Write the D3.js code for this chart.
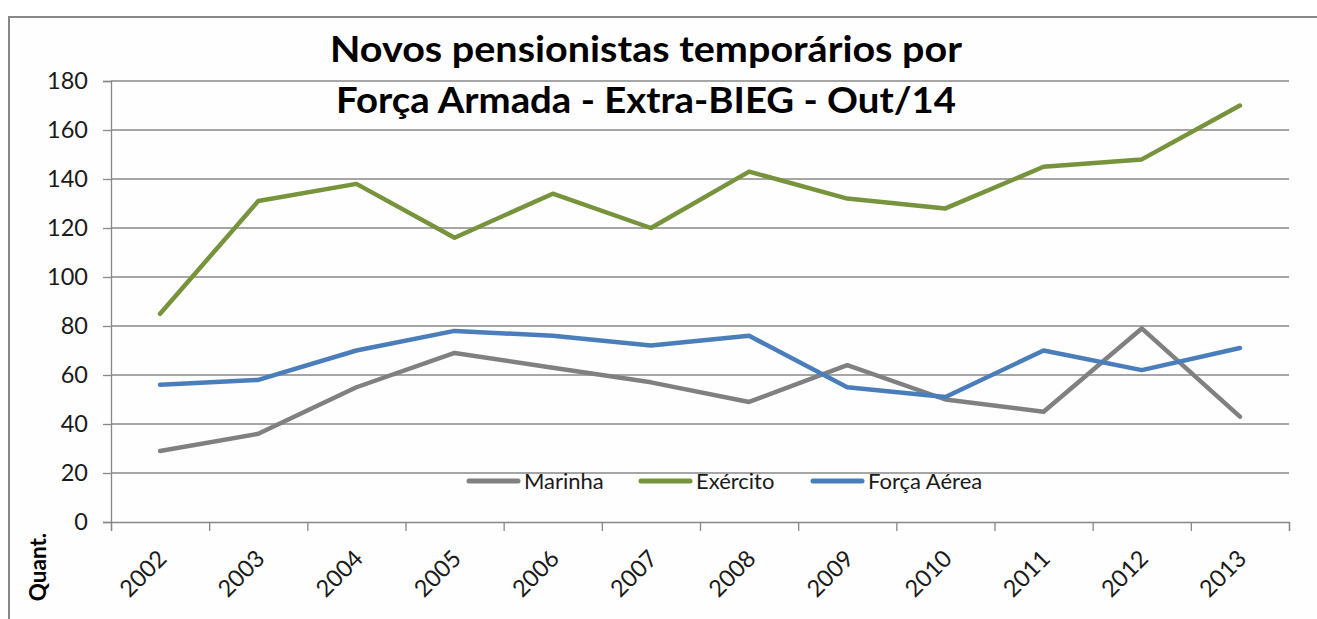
<!DOCTYPE html>
<html><head><meta charset="utf-8">
<script src="https://cdn.jsdelivr.net/npm/d3@7"></script>
<style>
body{margin:0;background:#fff}
svg{display:block}
text{font-family:Lato,"Open Sans",sans-serif}
</style>
</head><body>
<script>
// ---- data ----
const years = ["2002","2003","2004","2005","2006","2007","2008","2009","2010","2011","2012","2013"];
const marinha = [29,36,55,69,63,57,49,64,50,45,79,43];
const exercito = [85,131,138,116,134,120,143,132,128,145,148,170];
const forcaAerea = [56,58,70,78,76,72,76,55,51,70,62,71];
const yTicks = [0,20,40,60,80,100,120,140,160,180];
const seriesNames = ["Marinha","Exército","Força Aérea"];
const seriesColors = ["#808080","#77933C","#4A7EBB"];
const titleLines = ["Novos pensionistas temporários por","Força Armada - Extra-BIEG - Out/14"];
const yLabel = "Quant.";

// ---- layout ----
const W = 1317, H = 619;
const plotL = 111, plotR = 1289, plotT = 81, plotB = 522;
const gridColor = "#888888";

const svg = d3.select("body").append("svg").attr("width", W).attr("height", H);
svg.append("rect").attr("width", W).attr("height", H).attr("fill", "#fff");
// outer chart border
svg.append("rect").attr("x", 9).attr("y", 17).attr("width", W + 20).attr("height", H + 20)
  .attr("fill", "#fefefe").attr("stroke", "#878787").attr("stroke-width", 2);

const x = d3.scaleBand().domain(years).range([plotL, plotR]);
const xc = d => x(d) + x.bandwidth() / 2;
const y = d3.scaleLinear().domain([0, 180]).range([plotB, plotT]);

// gridlines
svg.append("g").selectAll("line").data(yTicks.filter(v => v > 0)).join("line")
  .attr("x1", plotL).attr("x2", plotR)
  .attr("y1", d => y(d)).attr("y2", d => y(d))
  .attr("stroke", gridColor).attr("stroke-width", 1.3);

// y axis
const yAxis = svg.append("g").attr("transform", `translate(${plotL},0)`)
  .call(d3.axisLeft(y).tickValues(yTicks).tickSize(8).tickPadding(15));
yAxis.select(".domain").attr("stroke", gridColor).attr("stroke-width", 1.3);
yAxis.selectAll(".tick line").attr("stroke", gridColor).attr("stroke-width", 1.3);
yAxis.selectAll(".tick text").attr("font-size", 23.5).attr("fill", "#1a1a1a")
  .style("font-family", "Lato, sans-serif");

// x axis: ticks at category boundaries
const xb = d3.scaleLinear().domain([0, years.length]).range([plotL, plotR]);
const xAxis = svg.append("g").attr("transform", `translate(0,${plotB})`)
  .call(d3.axisBottom(xb).tickValues(d3.range(years.length + 1)).tickSize(9).tickFormat(""));
xAxis.select(".domain").attr("stroke", gridColor).attr("stroke-width", 1.3);
xAxis.selectAll(".tick line").attr("stroke", gridColor).attr("stroke-width", 1.3);

// x labels rotated
svg.append("g").selectAll("text").data(years).join("text")
  .attr("transform", d => `translate(${xc(d) + 8},${plotB + 38}) rotate(-45)`)
  .attr("text-anchor", "end")
  .attr("font-size", 23.5).attr("fill", "#1a1a1a")
  .text(d => d);

// lines
const seriesData = [marinha, exercito, forcaAerea];
const line = d3.line().x((d, i) => xc(years[i])).y(d => y(d));
svg.append("g").selectAll("path").data(seriesData).join("path")
  .attr("d", d => line(d))
  .attr("fill", "none")
  .attr("stroke", (d, i) => seriesColors[i])
  .attr("stroke-width", 4.5)
  .attr("stroke-linejoin", "round")
  .attr("stroke-linecap", "round");

// legend
const legendX = [467, 639, 811];
const legendY = 481;
const lg = svg.append("g").selectAll("g").data(seriesNames).join("g")
  .attr("transform", (d, i) => `translate(${legendX[i]},${legendY})`);
lg.append("line").attr("x1", 2).attr("x2", 51).attr("y1", 0).attr("y2", 0)
  .attr("stroke", (d, i) => seriesColors[i]).attr("stroke-width", 5).attr("stroke-linecap", "round");
lg.append("text").attr("x", 57).attr("y", 0).attr("dy", "0.35em")
  .attr("font-size", 22).attr("fill", "#1a1a1a").text(d => d);

// title
const titleW = [632, 620];
svg.append("g").selectAll("text").data(titleLines).join("text")
  .attr("x", 646).attr("y", (d, i) => 62 + i * 51)
  .attr("text-anchor", "middle")
  .attr("textLength", (d, i) => titleW[i]).attr("lengthAdjust", "spacingAndGlyphs")
  .attr("font-size", 36).attr("font-weight", "bold").attr("fill", "#000")
  .text(d => d);

// y label
svg.append("text")
  .attr("transform", `translate(46,567) rotate(-90)`)
  .attr("text-anchor", "middle")
  .attr("font-size", 22.5).attr("font-weight", "bold").attr("fill", "#000")
  .text(yLabel);
</script>
</body></html>
